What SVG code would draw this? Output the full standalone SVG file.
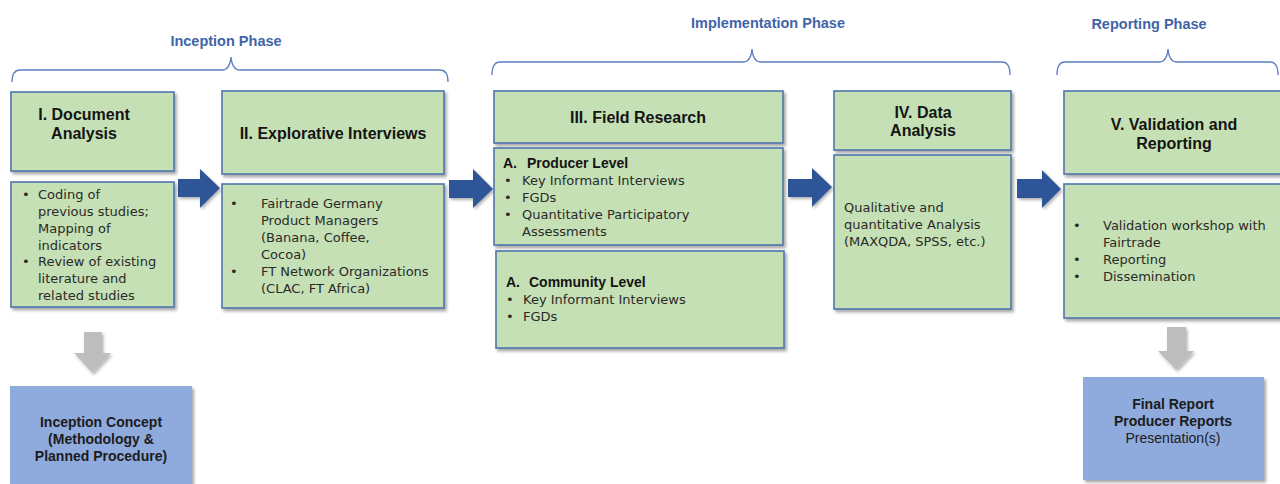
<svg xmlns="http://www.w3.org/2000/svg" width="1280" height="484" viewBox="0 0 1280 484">
<defs>
<filter id="sh" x="-10%" y="-10%" width="130%" height="130%">
<feDropShadow dx="2" dy="2.5" stdDeviation="1.5" flood-color="#000" flood-opacity="0.35"/>
</filter>
<filter id="sha" x="-20%" y="-20%" width="150%" height="150%">
<feDropShadow dx="1.5" dy="2" stdDeviation="1.5" flood-color="#000" flood-opacity="0.3"/>
</filter>
</defs>
<style>
.box{fill:#c5e0b4;stroke:#4f74ad;stroke-width:1.6}
.out{fill:#8faadc;stroke:none}
.ttl{font-family:"Liberation Sans",Arial,sans-serif;font-weight:bold;font-size:16px;fill:#141414;text-anchor:middle}
.sub{font-family:"Liberation Sans",Arial,sans-serif;font-weight:bold;font-size:14px;fill:#141414}
.bd{font-family:"DejaVu Sans","Liberation Sans",sans-serif;font-size:13px;fill:#2a2a2a}
.ph{font-family:"Liberation Sans",Arial,sans-serif;font-weight:bold;font-size:14.5px;fill:#3f64a8;text-anchor:middle}
.brace{fill:none;stroke:#5b80c2;stroke-width:1.3}
.arr{fill:#2f5597}
.garr{fill:#bdbdbd}
.ob{font-family:"Liberation Sans",Arial,sans-serif;font-size:14px;fill:#1c1c1c;text-anchor:middle}
</style>

<g id="phases">
<text class="ph" x="226" y="46">Inception Phase</text>
<path class="brace" d="M12,82 Q12,70 20,70 L222,70 Q230,70 231,57 Q232,70 240,70 L440,70 Q448,70 448,82"/>
<text class="ph" x="768" y="28">Implementation Phase</text>
<path class="brace" d="M492,75 Q492,62 500,62 L743,62 Q751,62 752,49 Q753,62 761,62 L1002,62 Q1010,62 1010,75"/>
<text class="ph" x="1149" y="29">Reporting Phase</text>
<path class="brace" d="M1057,75 Q1057,62 1065,62 L1159,62 Q1167,62 1168,49 Q1169,62 1177,62 L1270,62 Q1278,62 1278,75"/>
</g>

<g id="connectors">
<path class="arr" filter="url(#sha)" d="M178,179 L200,179 L200,169 L220,188 L200,208 L200,197 L178,197 Z"/>
<path class="arr" filter="url(#sha)" d="M449,180 L473,180 L473,169 L493,189 L473,208 L473,198 L449,198 Z"/>
<path class="arr" filter="url(#sha)" d="M788,179 L812,179 L812,168 L832,187 L812,207 L812,197 L788,197 Z"/>
<path class="arr" filter="url(#sha)" d="M1017,179 L1042,179 L1042,170 L1061,189 L1042,208 L1042,198 L1017,198 Z"/>
<path class="garr" filter="url(#sha)" d="M84,332 L102,332 L102,353 L111,353 L92.5,373 L74,353 L84,353 Z"/>
<path class="garr" filter="url(#sha)" d="M1167,327 L1186,327 L1186,351 L1194,351 L1176,370 L1158,351 L1167,351 Z"/>
</g>

<g id="doc-analysis">
<rect class="box" filter="url(#sh)" x="11" y="92" width="163" height="79"/>
<text class="ttl" x="84" y="120">I. Document</text>
<text class="ttl" x="84" y="139">Analysis</text>
<rect class="box" filter="url(#sh)" x="11" y="182" width="163" height="125"/>
<text class="bd"><tspan x="22" y="199">•</tspan><tspan x="38" y="199">Coding of</tspan><tspan x="38" y="216">previous studies;</tspan><tspan x="38" y="233">Mapping of</tspan><tspan x="38" y="250">indicators</tspan><tspan x="22" y="266">•</tspan><tspan x="38" y="266">Review of existing</tspan><tspan x="38" y="283">literature and</tspan><tspan x="38" y="300">related studies</tspan></text>
</g>

<g id="explorative-interviews">
<rect class="box" filter="url(#sh)" x="222" y="91" width="222" height="83"/>
<text class="ttl" x="333" y="139">II. Explorative Interviews</text>
<rect class="box" filter="url(#sh)" x="222" y="184" width="222" height="124"/>
<text class="bd"><tspan x="230" y="208">•</tspan><tspan x="261" y="208">Fairtrade Germany</tspan><tspan x="261" y="225">Product Managers</tspan><tspan x="261" y="242">(Banana, Coffee,</tspan><tspan x="261" y="259">Cocoa)</tspan><tspan x="230" y="276">•</tspan><tspan x="261" y="276">FT Network Organizations</tspan><tspan x="261" y="293">(CLAC, FT Africa)</tspan></text>
</g>

<g id="field-research">
<rect class="box" filter="url(#sh)" x="494" y="91" width="289" height="52"/>
<text class="ttl" x="638" y="123">III. Field Research</text>
<rect class="box" filter="url(#sh)" x="494" y="148" width="289" height="97"/>
<text class="sub"><tspan x="503" y="168">A.</tspan><tspan x="527" y="168">Producer Level</tspan></text>
<text class="bd"><tspan x="504" y="185">•</tspan><tspan x="522" y="185">Key Informant Interviews</tspan><tspan x="504" y="202">•</tspan><tspan x="522" y="202">FGDs</tspan><tspan x="504" y="219">•</tspan><tspan x="522" y="219">Quantitative Participatory</tspan><tspan x="522" y="236">Assessments</tspan></text>
<rect class="box" filter="url(#sh)" x="496" y="251" width="288" height="97"/>
<text class="sub"><tspan x="506" y="287">A.</tspan><tspan x="529" y="287">Community Level</tspan></text>
<text class="bd"><tspan x="506" y="304">•</tspan><tspan x="523" y="304">Key Informant Interviews</tspan><tspan x="506" y="321">•</tspan><tspan x="523" y="321">FGDs</tspan></text>
</g>

<g id="data-analysis">
<rect class="box" filter="url(#sh)" x="834" y="91" width="177" height="59"/>
<text class="ttl" x="923" y="118">IV. Data</text>
<text class="ttl" x="923" y="136">Analysis</text>
<rect class="box" filter="url(#sh)" x="834" y="155" width="177" height="154"/>
<text class="bd"><tspan x="844" y="212">Qualitative and</tspan><tspan x="844" y="229">quantitative Analysis</tspan><tspan x="844" y="246">(MAXQDA, SPSS, etc.)</tspan></text>
</g>

<g id="validation-reporting">
<rect class="box" filter="url(#sh)" x="1064" y="91" width="222" height="83"/>
<text class="ttl" x="1174" y="130">V. Validation and</text>
<text class="ttl" x="1174" y="149">Reporting</text>
<rect class="box" filter="url(#sh)" x="1064" y="184" width="222" height="134"/>
<text class="bd"><tspan x="1073" y="230">•</tspan><tspan x="1103" y="230">Validation workshop with</tspan><tspan x="1103" y="247">Fairtrade</tspan><tspan x="1073" y="264">•</tspan><tspan x="1103" y="264">Reporting</tspan><tspan x="1073" y="281">•</tspan><tspan x="1103" y="281">Dissemination</tspan></text>
</g>

<g id="inception-concept">
<rect class="out" filter="url(#sh)" x="10" y="386" width="182" height="102"/>
<text class="ob" font-weight="bold"><tspan x="101" y="427">Inception Concept</tspan><tspan x="101" y="444">(Methodology &amp;</tspan><tspan x="101" y="461">Planned Procedure)</tspan></text>
</g>

<g id="final-report">
<rect class="out" filter="url(#sh)" x="1083" y="377" width="181" height="103"/>
<text class="ob"><tspan x="1173" y="409" font-weight="bold">Final Report</tspan><tspan x="1173" y="426" font-weight="bold">Producer Reports</tspan><tspan x="1173" y="443">Presentation(s)</tspan></text>
</g>
</svg>
